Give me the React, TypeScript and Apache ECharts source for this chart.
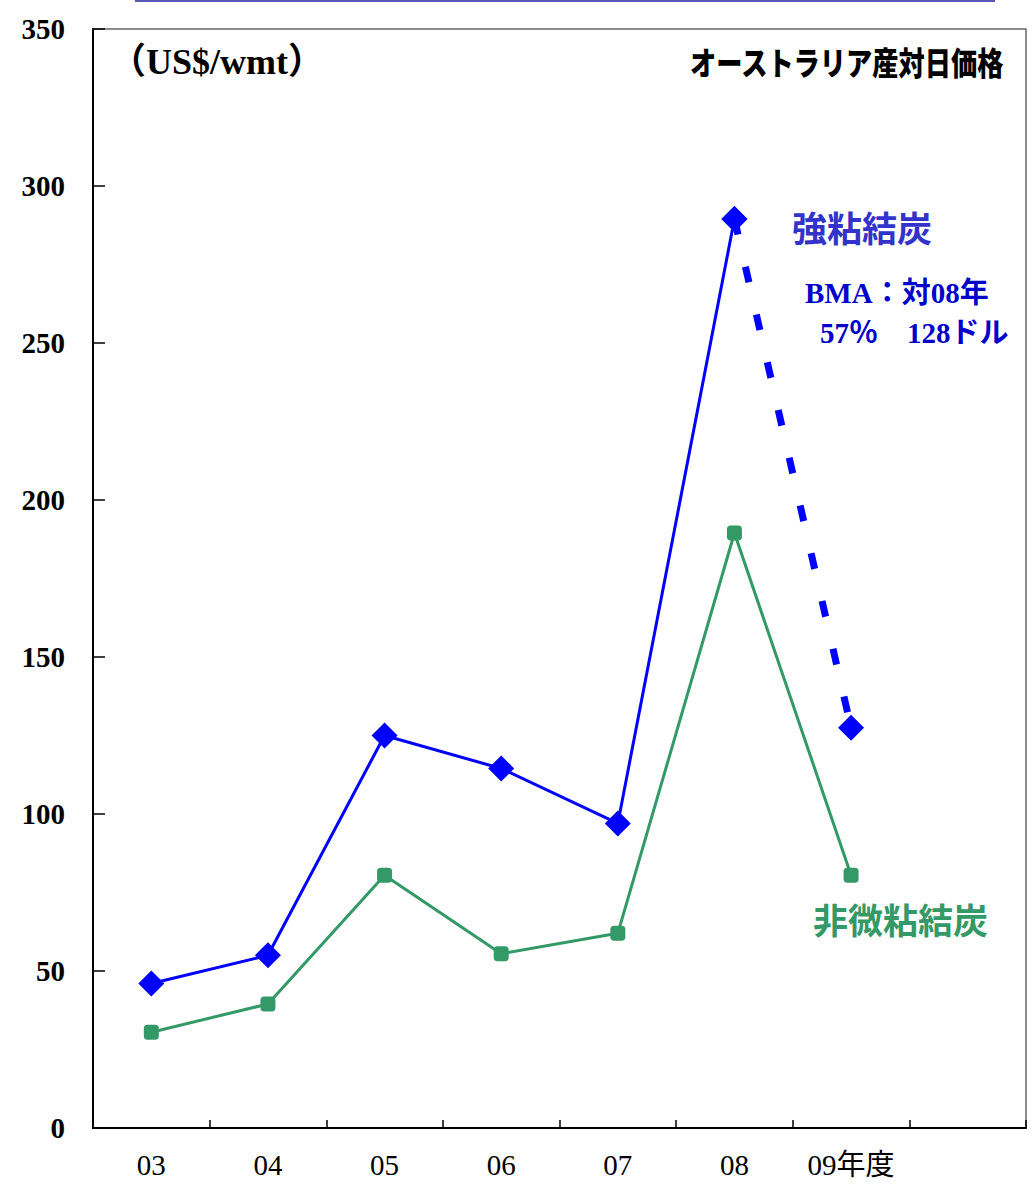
import React, { useEffect, useRef } from "react";
import * as echarts from "echarts";

const categories = ["03", "04", "05", "06", "07", "08", "09年度", ""];
const cokingSolid = [46, 55, 125, 114.5, 97, 289.5, "-", "-"];
const cokingForecast = ["-", "-", "-", "-", "-", 289.5, 127.5, "-"];
const pciValues = [30.5, 39.5, 80.5, 55.5, 62, 189.5, 80.5, "-"];
const yMin = 0;
const yMax = 350;
const yStep = 50;

const SERIF = "'Liberation Serif', 'Times New Roman', 'Noto Sans CJK JP', serif";
const GOTHIC = "'Noto Sans CJK JP', sans-serif";

export default function App() {
  const ref = useRef<HTMLDivElement>(null);
  useEffect(() => {
    if (!ref.current) return;
    const chart = echarts.init(ref.current, undefined, { renderer: "svg" });
    chart.setOption({
      animation: false,
      backgroundColor: "#ffffff",
      grid: {
        left: 93,
        right: 9,
        top: 29,
        bottom: 59,
        show: true,
        borderColor: "#666666",
        borderWidth: 1.5,
      },
      xAxis: {
        type: "category",
        data: categories,
        boundaryGap: true,
        axisLine: { lineStyle: { color: "#000", width: 2 } },
        axisTick: { show: true, inside: true, length: 8, interval: 0, lineStyle: { color: "#000", width: 1.5 } },
        axisLabel: {
          interval: 0,
          margin: 22,
          color: "#000",
          fontFamily: SERIF,
          fontSize: 29,
        },
        splitLine: { show: false },
      },
      yAxis: {
        type: "value",
        min: yMin,
        max: yMax,
        interval: yStep,
        axisLine: { show: true, lineStyle: { color: "#000", width: 2 } },
        axisTick: { show: true, inside: true, length: 12, lineStyle: { color: "#000", width: 1.5 } },
        axisLabel: {
          margin: 28,
          color: "#000",
          fontFamily: SERIF,
          fontWeight: "bold",
          fontSize: 29,
        },
        splitLine: { show: false },
      },
      series: [
        {
          type: "line",
          data: cokingForecast,
          symbol: "diamond",
          symbolSize: 26,
          showSymbol: true,
          itemStyle: { color: "#0000ff" },
          lineStyle: { color: "#0000ff", width: 7, type: [16, 33], cap: "butt" },
          z: 2,
        },
        {
          type: "line",
          data: pciValues,
          symbol: "roundRect",
          symbolSize: 15,
          itemStyle: { color: "#339966" },
          lineStyle: { color: "#339966", width: 3 },
          z: 3,
        },
        {
          type: "line",
          data: cokingSolid,
          symbol: "diamond",
          symbolSize: 26,
          itemStyle: { color: "#0000ff" },
          lineStyle: { color: "#0000ff", width: 3 },
          z: 4,
        },
      ],
      graphic: [
        {
          type: "line",
          shape: { x1: 135, y1: 1, x2: 995, y2: 1 },
          style: { stroke: "#5a5ab4", lineWidth: 2 },
        },
        {
          type: "text",
          x: 110,
          y: 62,
          style: {
            text: "（US$/wmt）",
            font: `bold 36px ${SERIF}`,
            fill: "#000",
            textVerticalAlign: "middle",
            textAlign: "left",
          },
        },
        {
          type: "text",
          x: 690,
          y: 61,
          scaleX: 0.82,
          style: {
            text: "オーストラリア産対日価格",
            font: `900 32px ${GOTHIC}`,
            fill: "#000",
            textVerticalAlign: "middle",
            textAlign: "left",
          },
        },
        {
          type: "text",
          x: 792,
          y: 226,
          style: {
            text: "強粘結炭",
            font: `bold 35px ${GOTHIC}`,
            fill: "#3333cc",
            textVerticalAlign: "middle",
            textAlign: "left",
          },
        },
        {
          type: "text",
          x: 805,
          y: 293,
          style: {
            text: "BMA：対08年",
            font: `bold 29px ${SERIF}`,
            fill: "#0000cc",
            textVerticalAlign: "middle",
            textAlign: "left",
          },
        },
        {
          type: "text",
          x: 820,
          y: 333,
          style: {
            text: "57％　128ドル",
            font: `bold 29px ${SERIF}`,
            fill: "#0000cc",
            textVerticalAlign: "middle",
            textAlign: "left",
          },
        },
        {
          type: "text",
          x: 813,
          y: 918,
          style: {
            text: "非微粘結炭",
            font: `bold 35px ${GOTHIC}`,
            fill: "#339966",
            textVerticalAlign: "middle",
            textAlign: "left",
          },
        },
      ],
    });
    return () => chart.dispose();
  }, []);
  return <div ref={ref} style={{ width: 1035, height: 1187, position: "absolute", left: 0, top: 0 }} />;
}
